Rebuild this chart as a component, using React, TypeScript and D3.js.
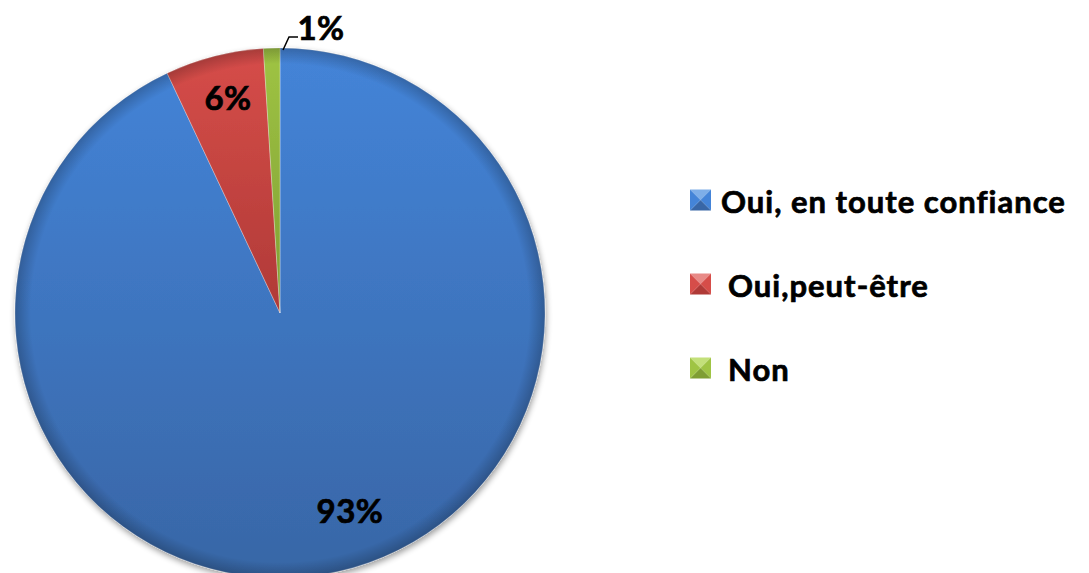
import React from "react";
import * as d3 from "d3";

const categories = ["Oui, en toute confiance", "Oui,peut-être", "Non"];
const values = [93, 6, 1];
const labels = ["93%", "6%", "1%"];
const colors = ["#4484d8", "#d64d49", "#9fc444"];
const darkColors = ["#3866a6", "#b03a37", "#7f9e33"];
const lightColors = ["#7eaee8", "#e88a87", "#c3e07a"];

export default function App() {
  const W = 1089, H = 573;
  const cx = 280, cy = 313, r = 265;
  const pie = d3.pie<number>().sort(null).value((d) => d);
  const arcs = pie(values);
  const arc = d3.arc<d3.PieArcDatum<number>>().innerRadius(0).outerRadius(r);
  const labelPos: [number, number][] = [
    [350, 510],
    [228, 97],
    [321, 27],
  ];
  const legendX = 690;
  const legendY = [200, 284, 368];
  const textX = [721, 728, 728];
  const ms = 21;
  return (
    <svg width={W} height={H} style={{ position: "absolute", left: 0, top: 0, background: "#fff" }}>
      <defs>
        {colors.map((c, i) => (
          <linearGradient key={i} id={"g" + i} x1="0" y1="0" x2="0" y2="1">
            <stop offset="0%" stopColor={c} />
            <stop offset="100%" stopColor={darkColors[i]} />
          </linearGradient>
        ))}
        <radialGradient id="edge" cx="0.5" cy="0.5" r="0.5">
          <stop offset="94%" stopColor="#000" stopOpacity={0} />
          <stop offset="100%" stopColor="#000" stopOpacity={0.22} />
        </radialGradient>
        <filter id="shadow" x="-10%" y="-10%" width="120%" height="120%">
          <feGaussianBlur in="SourceAlpha" stdDeviation="3" />
          <feOffset dx="1" dy="3" result="b" />
          <feComponentTransfer><feFuncA type="linear" slope="0.4" /></feComponentTransfer>
          <feMerge><feMergeNode /><feMergeNode in="SourceGraphic" /></feMerge>
        </filter>
      </defs>
      <g transform={`translate(${cx},${cy})`}>
        <g filter="url(#shadow)">
          {arcs.map((a, i) => (
            <path key={i} d={arc(a) || ""} fill={`url(#g${i})`} stroke="rgba(255,255,255,0.3)" strokeWidth={1} />
          ))}
        </g>
        <circle r={r} fill="url(#edge)" pointerEvents="none" />
      </g>
      <polyline points="283,50 289,37 298,37" fill="none" stroke="#000" strokeWidth={1.5} />
      {labels.map((l, i) => (
        <text
          key={i}
          x={labelPos[i][0]}
          y={labelPos[i][1]}
          textAnchor="middle"
          dominantBaseline="central"
          fontFamily="Lato, 'Open Sans', sans-serif"
          fontWeight={700}
          fontSize={33}
          fill="#000"
          stroke="#000"
          strokeWidth={0.7}
          letterSpacing={0.5}
        >
          {l}
        </text>
      ))}
      {categories.map((c, i) => {
        const x0 = legendX, y0 = legendY[i] - ms / 2, x1 = x0 + ms, y1 = y0 + ms;
        const mx = x0 + ms / 2, my = y0 + ms / 2;
        return (
          <g key={c}>
            <polygon points={`${x0},${y0} ${x1},${y0} ${mx},${my}`} fill={lightColors[i]} />
            <polygon points={`${x1},${y0} ${x1},${y1} ${mx},${my}`} fill={colors[i]} />
            <polygon points={`${x0},${y1} ${x1},${y1} ${mx},${my}`} fill={darkColors[i]} />
            <polygon points={`${x0},${y0} ${x0},${y1} ${mx},${my}`} fill={colors[i]} />
            <text
              x={textX[i]}
              y={legendY[i] + 1}
              dominantBaseline="central"
              fontFamily="Lato, 'Open Sans', sans-serif"
              fontWeight={700}
              fontSize={31}
              fill="#000"
              stroke="#000"
              strokeWidth={0.7}
              letterSpacing={1}
            >
              {c}
            </text>
          </g>
        );
      })}
    </svg>
  );
}
